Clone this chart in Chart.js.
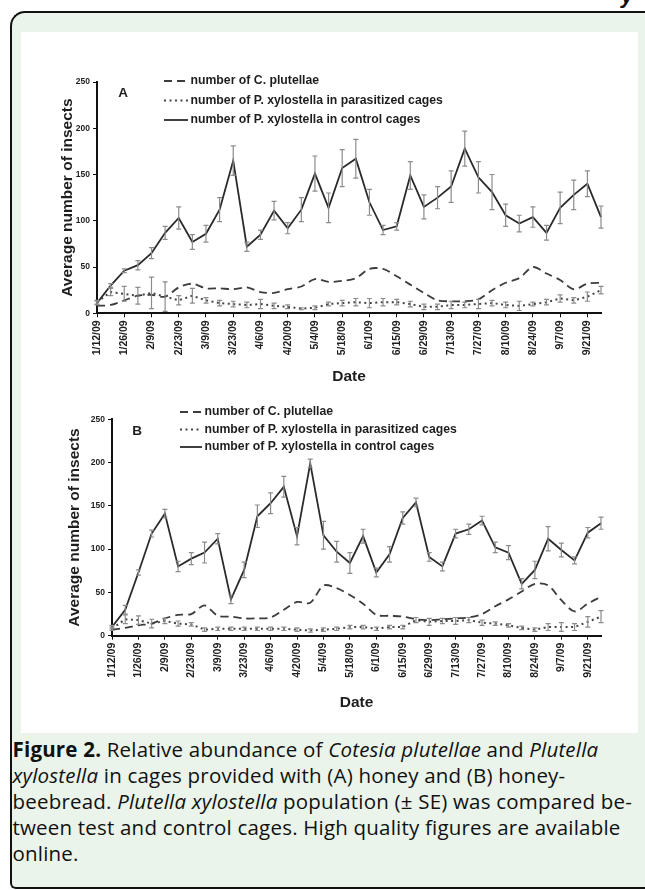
<!DOCTYPE html>
<html>
<head>
<meta charset="utf-8">
<title>Figure 2</title>
<script src="https://cdn.jsdelivr.net/npm/chart.js@4.4.0/dist/chart.umd.min.js"></script>
<style>
  body { margin: 0; width: 645px; height: 890px; position: relative; overflow: hidden; background: #fff; }
  #hdr { position: absolute; left: 621px; top: -17px; font: italic bold 22px "Liberation Sans", Arial, sans-serif; color: #111; }
  #box { position: absolute; left: 10px; top: 11px; width: 700px; height: 878px; box-sizing: border-box;
         border: 2px solid #111; border-right: none; border-radius: 15px 0 0 6px; background: #eaf4ea; }
  #plots { position: absolute; left: 21px; top: 32px; width: 617px; height: 701px; background: #fff; }
  #plots canvas { position: absolute; left: 0; }
  #chartA { top: 0; }
  #chartB { top: 363px; }
  #caption { position: absolute; left: 12.5px; top: 737.4px; font: 20.5px "Open Sans", Lato, sans-serif;
             letter-spacing: 0.2px; line-height: 25.8px; color: #111; white-space: nowrap; }
</style>
</head>
<body>
<div id="hdr">y</div>
<div id="box"></div>
<div id="plots">
  <canvas id="chartA" width="617" height="362"></canvas>
  <canvas id="chartB" width="617" height="338"></canvas>
</div>
<div id="caption">
  <b>Figure 2.</b> Relative abundance of <i>Cotesia plutellae</i> and <i>Plutella</i><br>
  <i>xylostella</i> in cages provided with (A) honey and (B) honey-<br>
  beebread. <i>Plutella xylostella</i> population (± SE) was compared be-<br>
  tween test and control cages. High quality figures are available<br>
  online.
</div>
<script>
'use strict';

// weekly sampling dates (only every second one gets a label)
const dates = ['1/12/09', '1/19/09', '1/26/09', '2/2/09', '2/9/09', '2/16/09', '2/23/09', '3/2/09',
  '3/9/09', '3/16/09', '3/23/09', '3/30/09', '4/6/09', '4/13/09', '4/20/09', '4/27/09', '5/4/09',
  '5/11/09', '5/18/09', '5/25/09', '6/1/09', '6/8/09', '6/15/09', '6/22/09', '6/29/09', '7/6/09',
  '7/13/09', '7/20/09', '7/27/09', '8/3/09', '8/10/09', '8/17/09', '8/24/09', '8/31/09', '9/7/09',
  '9/14/09', '9/21/09', '9/28/09'];
const seriesNames = ['number of C. plutellae',
  'number of P. xylostella in parasitized cages',
  'number of P. xylostella in control cages'];
const yMin = 0, yMax = 250, yStep = 50;

// panel A : honey
const plutellaeA = [8, 9, 14, 19, 20, 18, 28, 32, 27, 27, 26, 28, 23, 22, 26, 29, 37, 34, 35, 38,
  48, 48, 40, 31, 22, 14, 13, 13, 15, 25, 33, 38, 50, 43, 36, 26, 32, 33];
const parasitizedA = [12, 23, 21, 19, 22, 18, 14, 19, 14, 11, 10, 9, 10, 8, 7, 5, 6, 10, 11, 12,
  11, 12, 12, 10, 7, 7, 9, 9, 10, 11, 9, 8, 10, 12, 16, 14, 18, 25];
const parasitizedSeA = [2, 4, 8, 9, 17, 16, 5, 8, 3, 3, 3, 3, 5, 3, 2, 1, 2, 2, 3, 4,
  5, 4, 3, 3, 3, 3, 4, 3, 5, 3, 3, 5, 2, 3, 4, 3, 5, 4];
const controlA = [11, 30, 46, 52, 65, 87, 103, 77, 86, 112, 165, 72, 85, 111, 92, 112, 151, 114, 157, 167,
  120, 90, 94, 149, 115, 125, 137, 178, 147, 131, 106, 97, 104, 87, 114, 128, 140, 104];
const controlSeA = [2, 2, 2, 5, 6, 7, 12, 8, 9, 13, 16, 5, 5, 10, 6, 13, 19, 16, 20, 21,
  14, 5, 4, 15, 13, 12, 17, 19, 17, 19, 12, 9, 11, 8, 17, 16, 14, 12];

// panel B : honey-beebread
const plutellaeB = [7, 9, 12, 14, 20, 24, 25, 35, 23, 22, 20, 20, 21, 30, 39, 38, 58, 55, 47, 37,
  24, 23, 22, 19, 18, 19, 20, 21, 25, 34, 42, 51, 60, 58, 41, 28, 37, 45];
const parasitizedB = [8, 19, 18, 14, 17, 14, 13, 7, 8, 8, 8, 8, 8, 8, 7, 6, 7, 8, 10, 10,
  8, 10, 10, 18, 16, 17, 17, 18, 15, 14, 12, 9, 7, 10, 10, 10, 16, 22];
const parasitizedSeB = [2, 5, 5, 5, 3, 3, 2, 2, 2, 2, 2, 2, 2, 2, 2, 2, 2, 2, 2, 2,
  2, 2, 2, 3, 4, 3, 4, 3, 3, 2, 2, 2, 2, 4, 5, 4, 6, 7];
const controlB = [10, 30, 73, 118, 141, 80, 89, 96, 112, 42, 76, 138, 153, 172, 115, 199, 116, 97, 84, 115,
  73, 94, 136, 154, 91, 80, 118, 123, 133, 102, 96, 60, 76, 112, 99, 87, 119, 130];
const controlSeB = [2, 5, 3, 4, 5, 6, 7, 12, 6, 5, 9, 13, 12, 12, 10, 5, 16, 12, 12, 8,
  5, 9, 7, 5, 5, 5, 5, 6, 5, 6, 8, 6, 10, 14, 8, 4, 6, 7];

const FONT = '"Liberation Sans", Arial, sans-serif';
const INK = '#1e1e1e';

// vertical SE bars with caps, placed through the y scale
const errorBars = {
  id: 'errorBars',
  afterDatasetsDraw(chart, args, opts) {
    const ctx = chart.ctx;
    const yScale = chart.scales.y;
    const area = chart.chartArea;
    ctx.save();
    ctx.beginPath();
    ctx.rect(area.left - 5, area.top - 5, area.right - area.left + 10, area.bottom - area.top + 5);
    ctx.clip();
    ctx.strokeStyle = opts.color;
    ctx.lineWidth = opts.width;
    ctx.setLineDash([]);
    opts.sets.forEach(set => {
      const meta = chart.getDatasetMeta(set.dataset);
      const vals = chart.data.datasets[set.dataset].data;
      meta.data.forEach((pt, i) => {
        const se = set.se[i];
        if (!se) return;
        const top = yScale.getPixelForValue(vals[i] + se);
        const bot = yScale.getPixelForValue(vals[i] - se);
        ctx.beginPath();
        ctx.moveTo(pt.x, top); ctx.lineTo(pt.x, bot);
        ctx.moveTo(pt.x - opts.cap, top); ctx.lineTo(pt.x + opts.cap, top);
        ctx.moveTo(pt.x - opts.cap, bot); ctx.lineTo(pt.x + opts.cap, bot);
        ctx.stroke();
      });
    });
    ctx.restore();
  }
};

// legend stacked in rows + panel letter, like the original figure
const panelLegend = {
  id: 'panelLegend',
  afterDraw(chart, args, opts) {
    const ctx = chart.ctx;
    ctx.save();
    ctx.font = 'bold 12.25px ' + FONT;
    ctx.fillStyle = INK;
    ctx.textBaseline = 'middle';
    chart.data.datasets.forEach((ds, i) => {
      const y = opts.top + i * opts.rowGap;
      ctx.strokeStyle = ds.borderColor;
      ctx.lineWidth = ds.borderWidth;
      ctx.setLineDash(ds.borderDash || []);
      ctx.beginPath();
      ctx.moveTo(opts.x, y);
      ctx.lineTo(opts.x + opts.lineLen, y);
      ctx.stroke();
      ctx.fillText(ds.label, opts.x + opts.lineLen + 2.5, y);
    });
    ctx.setLineDash([]);
    ctx.font = 'bold 13.5px ' + FONT;
    ctx.textAlign = 'center';
    ctx.fillText(opts.letter, opts.letterX, opts.letterY);
    ctx.restore();
  }
};

function makeChart(id, plutellae, parasitized, parasitizedSe, control, controlSe, lay) {
  const ctx = document.getElementById(id).getContext('2d');
  return new Chart(ctx, {
    type: 'line',
    data: {
      labels: dates,
      datasets: [
        { label: seriesNames[0], data: plutellae, borderColor: '#3c3c3c', borderWidth: 1.8,
          borderDash: [8, 5], tension: 0.3, pointRadius: 0, fill: false },
        { label: seriesNames[1], data: parasitized, borderColor: '#454545', borderWidth: 2,
          borderDash: [2, 3.5], tension: 0, pointRadius: 0, fill: false },
        { label: seriesNames[2], data: control, borderColor: '#2a2a2a', borderWidth: 1.8,
          tension: 0, pointRadius: 0, fill: false }
      ]
    },
    options: {
      responsive: false,
      animation: false,
      layout: { padding: { top: lay.padTop, right: 37, bottom: 0, left: 0 } },
      plugins: {
        legend: { display: false },
        tooltip: { enabled: false },
        errorBars: {
          color: '#8c8c8c', width: 1.2, cap: 2.5,
          sets: [{ dataset: 1, se: parasitizedSe }, { dataset: 2, se: controlSe }]
        },
        panelLegend: lay.legend
      },
      scales: {
        x: {
          offset: false,
          afterFit: s => { s.height = lay.xHeight; },
          border: { display: true, color: '#111', width: 2 },
          grid: { drawOnChartArea: false, drawTicks: true, tickLength: 4,
                  tickColor: c => (c.index % 2 ? 'rgba(0,0,0,0)' : '#111') },
          ticks: {
            autoSkip: false, minRotation: 90, maxRotation: 90, padding: 3, color: INK,
            font: { family: FONT, size: 10.5, weight: 'bold' },
            callback: (v, i) => (i % 2 === 0 ? dates[i] : '')
          },
          title: { display: true, text: 'Date', color: INK,
                   font: { family: FONT, size: 15.5, weight: 'bold' },
                   padding: { top: 0, bottom: lay.dateGap } }
        },
        y: {
          min: yMin, max: yMax,
          afterFit: s => { s.width = lay.yWidth; },
          border: { display: true, color: '#111', width: 2 },
          grid: { drawOnChartArea: false, drawTicks: true, tickLength: 4, tickColor: '#111' },
          ticks: { stepSize: yStep, padding: 3, color: INK,
                   font: { family: FONT, size: 8.5, weight: 'bold' } },
          title: { display: true, text: 'Average number of insects', color: INK,
                   font: { family: FONT, size: 15.5, weight: 'bold' },
                   padding: { top: lay.titleGap, bottom: 0 } }
        }
      }
    },
    plugins: [errorBars, panelLegend]
  });
}

makeChart('chartA', plutellaeA, parasitizedA, parasitizedSeA, controlA, controlSeA, {
  padTop: 50, yWidth: 76, xHeight: 80.7, dateGap: 7.7, titleGap: 37.7,
  legend: { x: 143, top: 49, rowGap: 19.5, lineLen: 24, letter: 'A', letterX: 102, letterY: 61 }
});
makeChart('chartB', plutellaeB, parasitizedB, parasitizedSeB, controlB, controlSeB, {
  padTop: 24.3, yWidth: 91, xHeight: 97.3, dateGap: 20.7, titleGap: 44.7,
  legend: { x: 159, top: 17, rowGap: 17.5, lineLen: 22, letter: 'B', letterX: 116, letterY: 36 }
});
</script>
</body>
</html>
